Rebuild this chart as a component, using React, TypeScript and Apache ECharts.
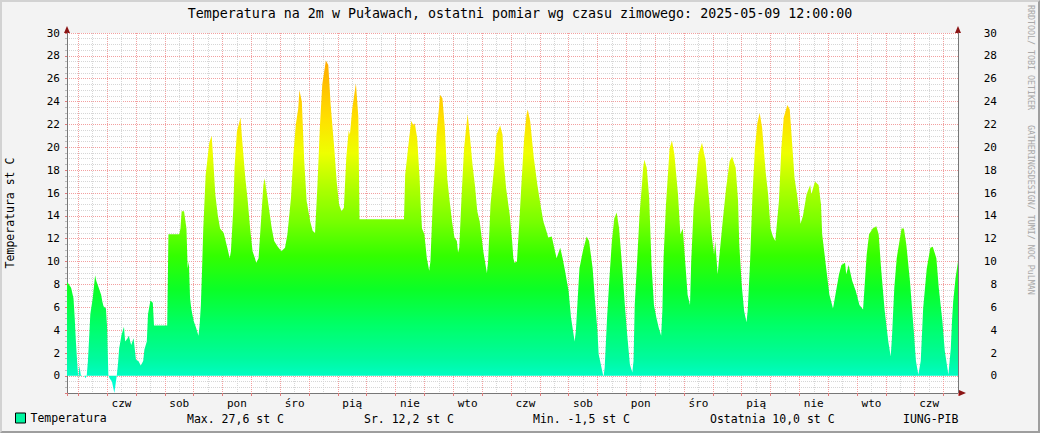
import React, { useEffect, useRef } from 'react';
import * as echarts from 'echarts';

// Observations: hours since 2025-04-08 00:00 (winter time) and temperature [st C]
const hours = [
  14, 15, 18, 20, 21, 22, 23, 24, 25, 26, 27, 29, 30, 31, 32, 33, 34, 36, 37, 38, 39, 41, 43, 44, 45, 47, 48, 49,
  50, 52, 53, 54, 56, 57, 58, 60, 62, 63, 65, 66, 68, 70, 72, 74, 76, 78, 79, 81, 82, 84, 86, 87, 98, 99,
  108, 109, 110, 112, 114, 115, 116, 117, 118, 120, 122, 124, 125, 126, 127, 128, 130, 133, 135, 136, 138, 140, 142, 145, 148,
  150, 151, 153, 154, 156, 159, 160, 163, 165, 167, 169, 171, 172, 174, 176, 178, 179, 181, 185, 187, 190, 193, 196, 198,
  201, 203, 205, 207, 208, 210, 212, 214, 217, 219, 221, 223, 225, 227, 230, 232, 234, 237, 239, 241, 243, 245, 247, 249,
  250, 252, 255, 257, 258, 295, 296, 299, 300, 301, 303, 304, 306, 308, 309, 310, 312, 314, 316, 317, 319, 321, 322, 324,
  325, 327, 329, 331, 333, 335, 337, 339, 340, 341, 343, 345, 347, 348, 350, 352, 354, 356, 358, 360, 361, 364, 365, 367,
  370, 372, 375, 377, 378, 380, 383, 385, 386, 387, 389, 391, 393, 395, 397, 398, 400, 403, 406, 409, 411, 414, 415, 418,
  420, 422, 425, 427, 429, 432, 434, 437, 438, 439, 441, 444, 447, 449, 452, 454, 456, 457, 460, 461, 462, 464, 466, 468,
  470, 472, 474, 477, 479, 481, 483, 485, 486, 487, 489, 491, 493, 494, 495, 497, 499, 501, 503, 505,
  507, 509, 510, 511, 513, 515, 516, 518, 520, 523, 525, 527, 529, 531, 533, 534, 536, 538, 540, 543, 546, 549, 551, 553,
  554, 556, 557, 560, 563, 566, 568, 571, 573, 574, 576, 578, 580, 581, 583, 585, 587, 589, 591, 593, 596, 598, 600, 602,
  604, 607, 609, 611, 614, 616, 618, 620, 622, 625, 627, 630, 633, 634, 637, 640, 642, 643, 646, 649, 652, 654, 657, 659,
  662, 663, 665, 668, 671, 674, 677, 678, 680, 682, 685, 688, 690, 692, 695, 698, 700, 701, 703, 705, 709, 711, 713, 716,
  719, 721, 723, 725, 727, 730, 733, 735, 738, 740, 743, 745, 748, 750, 751, 752, 754, 756,
];

const temps = [
  8.0, 8.2, 7.7, 6.8, 5.1, 3.0, 1.3, -0.2, 0.9, 0.1, 0.0, 0.0, -0.2, 0.0, 1.3, 3.3, 5.4, 6.8, 7.8, 8.8, 8.3, 7.7, 7.1, 6.5, 6.1, 5.9, 4.2, 0.1,
  -0.2, -0.5, -1.0, -1.5, 0.0, 1.0, 2.4, 3.6, 4.3, 3.0, 3.3, 3.5, 2.7, 3.3, 1.4, 1.3, 0.9, 1.3, 2.3, 3.0, 5.4, 6.6, 6.4, 4.4, 4.4, 12.4,
  12.4, 12.9, 14.4, 14.4, 12.9, 9.4, 10.0, 6.8, 5.9, 4.8, 4.2, 3.5, 4.5, 6.2, 9.4, 12.9, 17.6, 20.4, 21.0, 19.4, 15.9, 14.1, 12.9, 12.5, 11.2,
  10.3, 10.9, 14.7, 18.2, 21.4, 22.6, 21.1, 17.3, 15.3, 12.9, 10.9, 10.3, 9.9, 10.3, 13.5, 16.7, 17.3, 15.9, 12.9, 11.8, 11.3, 10.9, 11.2, 12.4,
  15.6, 19.4, 22.0, 23.4, 25.0, 24.0, 18.8, 15.3, 13.5, 12.7, 12.5, 16.7, 21.7, 25.5, 27.6, 27.2, 23.7, 19.9, 17.0, 15.0, 14.4, 14.7, 19.1, 21.5,
  21.1, 23.4, 25.6, 22.7, 13.7, 13.7, 17.6, 20.5, 21.4, 22.3, 21.9, 22.1, 20.8, 17.3, 14.7, 12.9, 12.4, 10.3, 9.2, 10.0, 15.3, 18.8, 21.1, 23.3,
  24.6, 24.3, 21.7, 17.3, 15.3, 13.5, 12.1, 11.8, 10.8, 11.2, 15.9, 19.9, 22.0, 22.9, 20.8, 18.5, 16.7, 14.4, 13.5, 11.8, 10.9, 9.0, 10.0, 15.0,
  18.2, 21.1, 21.9, 21.1, 18.8, 16.4, 14.1, 11.8, 10.3, 9.9, 10.0, 13.5, 17.3, 20.8, 22.9, 23.3, 22.3, 19.1, 16.7, 14.7, 13.5, 12.5, 12.1, 12.2,
  11.2, 10.3, 11.2, 10.3, 9.2, 7.4, 5.1, 3.0, 3.9, 5.7, 9.4, 11.0, 12.2, 11.8, 9.4, 6.5, 3.9, 1.9, 0.4, -0.1, 0.7, 5.1, 8.6, 11.8,
  13.8, 14.3, 12.9, 8.9, 5.9, 3.3, 1.0, 0.3, 1.3, 6.2, 10.0, 14.1, 16.7, 18.2, 18.9, 18.2, 15.6, 9.7, 6.2, 5.1,
  4.2, 3.5, 5.7, 10.3, 15.0, 18.2, 19.9, 20.6, 19.4, 15.9, 12.4, 12.9, 10.0, 7.1, 6.2, 10.0, 14.7, 17.0, 19.4, 20.4, 18.8, 15.3, 12.4, 10.6,
  11.8, 8.9, 10.0, 13.3, 16.4, 18.8, 19.2, 18.2, 15.3, 11.5, 8.0, 5.7, 4.7, 5.7, 10.0, 15.9, 19.9, 22.1, 23.0, 21.7, 17.8, 15.9, 12.9, 12.2,
  11.8, 15.3, 19.9, 22.6, 23.7, 23.3, 20.3, 17.3, 15.9, 13.3, 14.0, 15.9, 16.7, 15.9, 17.0, 16.7, 15.0, 12.4, 9.7, 7.1, 5.9, 7.1, 8.9, 9.7,
  9.9, 8.9, 9.7, 8.3, 7.4, 6.2, 5.8, 7.4, 10.6, 12.4, 12.9, 13.1, 12.4, 9.4, 5.7, 3.0, 1.7, 3.3, 7.7, 10.3, 12.9, 12.9, 11.5, 8.3,
  4.2, 1.3, 0.1, 1.3, 5.9, 9.4, 11.2, 11.3, 10.3, 7.7, 4.8, 2.2, 0.1, 2.4, 4.8, 6.5, 8.6, 10.0,
];

// Day-of-week labels at noon of each day since 2025-04-08 (index = day number)
const dayLabels = [
  '', '', 'czw', '', 'sob', '', 'pon', '', 'śro', '', 'pią', '', 'nie', '', 'wto', '',
  'czw', '', 'sob', '', 'pon', '', 'śro', '', 'pią', '', 'nie', '', 'wto', '', 'czw', '',
];

const startHour = 14.6;
const endHour = 756;
const yMin = -1.5;
const yMax = 30;

const titleText = 'Temperatura na 2m w Puławach, ostatni pomiar wg czasu zimowego: 2025-05-09 12:00:00';
const seriesName = 'Temperatura';
const yAxisName = 'Temperatura st C';
const summaryTexts = ['Max. 27,6 st C', 'Sr. 12,2 st C', 'Min. -1,5 st C', 'Ostatnia 10,0 st C', 'IUNG-PIB'];
const creditText = 'RRDTOOL/ TOBI OETIKER   GATHERINGSDESIGN/ TUMI/ NOC PuLMAN';

const FONT = 'DejaVu Sans Mono';
const gradColors = [
  '#00FFE6', '#00FA9E', '#00FF66', '#0AFF28', '#33FF00', '#77FF00',
  '#B0FF00', '#EEFF00', '#FFE000', '#FFC000', '#FFA000',
];

const isInt = (v: number) => Math.abs(v - Math.round(v)) < 1e-6;

export default function App() {
  const ref = useRef<HTMLDivElement>(null);

  useEffect(() => {
    if (!ref.current) return;
    const chart = echarts.init(ref.current, undefined, { renderer: 'svg' });
    const data = hours.map((h, i) => [h / 24, temps[i]]);
    const startDay = startHour / 24;
    const endDay = endHour / 24;
    const redGrid = '#f2a0a0';
    const greyGrid = '#d6d6d6';
    const summaryX = [187, 364, 533, 710, 903];

    const option: any = {
      animation: false,
      backgroundColor: '#f3f3f3',
      textStyle: { fontFamily: FONT },
      grid: {
        left: 67, right: 82, top: 33, bottom: 40,
        show: true, backgroundColor: '#ffffff', borderWidth: 0,
        containLabel: false, outerBoundsMode: 'none',
      },
      visualMap: {
        type: 'continuous', show: false, seriesIndex: 0, dimension: 1,
        min: -1.5, max: 28.5, inRange: { color: gradColors },
      },
      legend: {
        show: true, left: 15, top: 412, padding: 0, itemWidth: 10, itemHeight: 10, icon: 'rect',
        selectedMode: false,
        data: [{ name: seriesName, icon: 'rect', itemStyle: { color: '#00F5A0', borderColor: '#000', borderWidth: 1 } }],
        textStyle: { fontFamily: FONT, fontSize: 11.5, color: '#000' },
      },
      xAxis: [
        {
          type: 'value', position: 'bottom', min: startDay, max: endDay,
          splitNumber: 31, minInterval: 1, maxInterval: 1,
          axisLine: { show: true, onZero: false, lineStyle: { color: '#777', width: 1 } },
          axisTick: { show: true, length: 3, lineStyle: { color: '#e07a7a' } },
          axisLabel: { show: false },
          splitLine: { show: true, lineStyle: { color: redGrid, type: [1, 1], width: 1 } },
        },
        {
          type: 'value', position: 'bottom', min: startDay - 0.5, max: endDay - 0.5,
          splitNumber: 31, minInterval: 1, maxInterval: 1,
          axisLine: { show: false, onZero: false },
          axisTick: { show: false },
          axisLabel: {
            show: true, margin: 5, fontSize: 11, color: '#000', fontFamily: FONT,
            formatter: (v: number) => (isInt(v) ? dayLabels[Math.round(v)] || '' : ''),
          },
          splitLine: { show: true, lineStyle: { color: greyGrid, type: [1, 1], width: 1 } },
        },
      ],
      yAxis: [
        {
          type: 'value', position: 'left', min: yMin, max: yMax,
          splitNumber: 15, minInterval: 2, maxInterval: 2,
          name: yAxisName, nameLocation: 'middle', nameGap: 51, nameRotate: 90,
          nameMoveOverlap: false,
          nameTextStyle: { fontFamily: FONT, fontSize: 11.5, color: '#000' },
          axisLine: { show: true, onZero: false, lineStyle: { color: '#777', width: 1 } },
          axisTick: { show: true, length: 2, lineStyle: { color: '#e07a7a' } },
          minorTick: { show: true, splitNumber: 4, length: 2, lineStyle: { color: '#bbbbbb' } },
          axisLabel: {
            margin: 7, fontSize: 11, color: '#000', fontFamily: FONT,
            formatter: (v: number) => (isInt(v) && v >= 0 ? String(Math.round(v)) : ''),
          },
          splitLine: { show: true, lineStyle: { color: redGrid, type: [1, 1], width: 1 } },
          minorSplitLine: { show: true, lineStyle: { color: greyGrid, type: [1, 1], width: 1 } },
        },
        {
          type: 'value', position: 'right', min: yMin, max: yMax,
          splitNumber: 15, minInterval: 2, maxInterval: 2,
          axisLine: { show: true, onZero: false, lineStyle: { color: '#777', width: 1 } },
          axisTick: { show: false },
          axisLabel: {
            margin: 39, align: 'right', fontSize: 11, color: '#000', fontFamily: FONT,
            formatter: (v: number) => (isInt(v) && v >= 0 ? String(Math.round(v)) : ''),
          },
          splitLine: { show: false },
        },
      ],
      series: [
        {
          name: seriesName, type: 'line', xAxisIndex: 0, yAxisIndex: 0,
          data, showSymbol: false, symbol: 'none', silent: true,
          lineStyle: { width: 0, opacity: 0 },
          areaStyle: { opacity: 1 },
        },
      ],
      graphic: [
        {
          type: 'text', x: 520, y: 13,
          style: { text: titleText, fontFamily: FONT, fontSize: 13.3, fill: '#000', align: 'center', verticalAlign: 'middle', textAlign: 'center', textVerticalAlign: 'middle' },
        },
        {
          type: 'text', x: 1031, y: 5, rotation: -Math.PI / 2,
          style: { text: creditText, fontFamily: FONT, fontSize: 8.3, fill: '#a8a8a8', align: 'left', verticalAlign: 'middle', textAlign: 'left', textVerticalAlign: 'middle' },
        },
        ...summaryTexts.map((t, i) => ({
          type: 'text', x: summaryX[i], y: 419,
          style: { text: t, fontFamily: FONT, fontSize: 11.5, fill: '#000', align: 'left', verticalAlign: 'middle', textAlign: 'left', textVerticalAlign: 'middle' },
        })),
        { type: 'polygon', shape: { points: [[67, 26], [64, 33], [70, 33]] }, style: { fill: '#8b1414' } },
        { type: 'polygon', shape: { points: [[958, 26], [955, 33], [961, 33]] }, style: { fill: '#8b1414' } },
        { type: 'polygon', shape: { points: [[966, 393], [959, 390], [959, 396]] }, style: { fill: '#8b1414' } },
      ],
    };

    chart.setOption(option);
    return () => chart.dispose();
  }, []);

  return (
    <div style={{ position: 'fixed', left: 0, top: 0, width: 1040, height: 433 }}>
      <div ref={ref} style={{ width: 1040, height: 433 }} />
      <div
        style={{
          position: 'absolute', left: 0, top: 0, width: 1040, height: 433, boxSizing: 'border-box',
          borderTop: '2px solid #d2d2d2', borderLeft: '2px solid #d2d2d2',
          borderRight: '2px solid #9e9e9e', borderBottom: '2px solid #9e9e9e', pointerEvents: 'none',
        }}
      />
    </div>
  );
}
